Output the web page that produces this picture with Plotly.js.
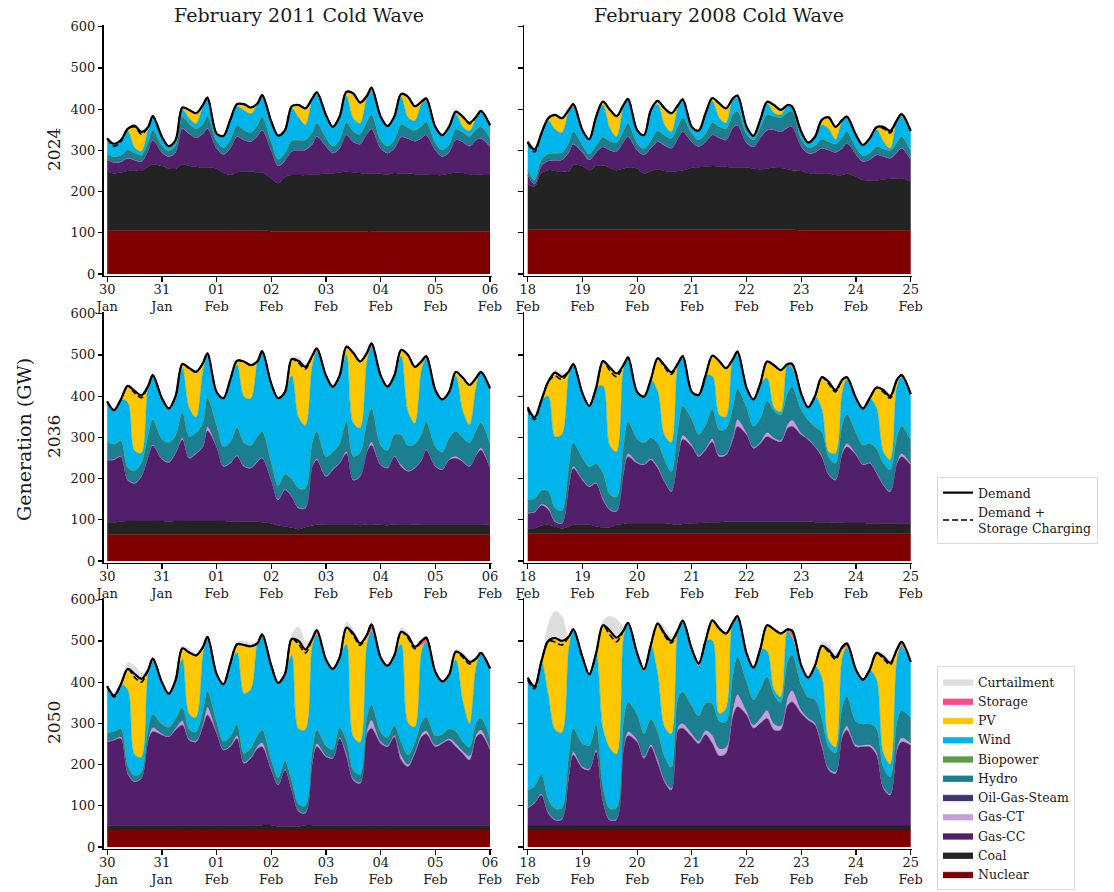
<!DOCTYPE html>
<html>
<head>
<meta charset="utf-8">
<script src="https://cdn.plot.ly/plotly-3.0.1.min.js"></script>
<style>html,body{margin:0;padding:0;background:#fff;}#chart{width:1114px;height:892px;}</style>
</head>
<body>
<div id="chart"></div>
<script>
// ---------- time grid (hours of day sampled, 7 days + final midnight) ----------
const HOURS = [0, 3, 6, 9, 12, 15, 18, 20];
const NDAYS = 7;
const days_2011 = ['30','31','01','02','03','04','05','06'];
const months_2011 = ['Jan','Jan','Feb','Feb','Feb','Feb','Feb','Feb'];
const days_2008 = ['18','19','20','21','22','23','24','25'];
const months_2008 = ['Feb','Feb','Feb','Feb','Feb','Feb','Feb','Feb'];
const yTicks = [0, 100, 200, 300, 400, 500, 600];
const colTitles = ['February 2011 Cold Wave', 'February 2008 Cold Wave'];
const rowTitles = ['2024', '2036', '2050'];

// ---------- shared small series (GW) ----------
const ogs_all = [1,1,1,1,1,1,1,1, 1,1,1,1,1,1,1,1, 1,1,1,1,1,1,1,1, 1,1,1,1,1,1,1,1, 1,1,1,1,1,1,1,1, 1,1,1,1,1,1,1,1, 1,1,1,1,1,1,1,1, 1];
const bio_all = [1,1,1,1,1,1,1,1, 1,1,1,1,1,1,1,1, 1,1,1,1,1,1,1,1, 1,1,1,1,1,1,1,1, 1,1,1,1,1,1,1,1, 1,1,1,1,1,1,1,1, 1,1,1,1,1,1,1,1, 1];

// ---------- 2024, February 2011 cold wave ----------
const demand_2024_2011 = [329,316,325,352,360,345,357,383, 333,310,325,404,398,390,410,428, 341,335,374,412,412,404,414,434, 370,336,349,407,410,402,426,441, 386,357,382,442,438,416,432,452, 382,359,382,437,430,407,418,426, 357,337,357,394,382,367,382,396, 361];
const dsc_2024_2011 = [329,310,321,352,357,339,357,383, 333,310,325,404,398,390,410,428, 341,335,374,412,412,404,414,434, 370,336,349,407,410,402,426,441, 386,357,382,442,438,416,432,452, 382,359,382,437,430,407,418,426, 357,337,357,394,382,364,382,396, 361];
const nuclear_2024_2011 = [105,105,105,105,105,105,105,105, 105,105,105,105,105,105,105,105, 105,105,105,105,105,105,105,105, 104,104,104,104,104,104,104,104, 104,104,104,104,104,104,104,104, 103,103,103,103,103,103,103,103, 103,103,103,103,103,103,103,103, 103];
const coal_2024_2011 = [143,139,141,145,147,145,155,161, 157,151,150,161,157,155,153,153, 151,140,135,142,143,143,142,141, 128,116,132,136,136,136,138,138, 140,140,142,144,143,141,140,140, 140,138,142,141,140,139,139,138, 137,137,140,143,142,139,139,138, 137];
const gascc_2024_2011 = [29,26,26,31,24,22,40,59, 33,29,40,87,78,70,82,95, 49,45,65,86,77,73,88,103, 68,42,39,57,60,61,73,91, 66,49,59,89,73,70,96,108, 62,52,60,88,85,80,88,96, 60,45,52,79,75,68,83,88, 69];
const gasct_2024_2011 = [1,1,1,1,1,1,1,1, 1,1,1,1,1,1,1,1, 1,1,1,1,1,1,1,1, 1,1,1,1,1,1,1,1, 1,1,1,1,1,1,1,1, 1,1,1,1,1,1,1,1, 1,1,1,1,1,1,1,1, 1];
const hydro_2024_2011 = [12,12,14,18,16,14,18,22, 14,12,14,25,22,20,22,28, 16,14,18,25,22,20,24,30, 18,14,16,24,22,22,26,30, 18,15,18,28,24,22,28,32, 18,15,18,28,25,24,27,30, 16,14,16,24,22,22,24,26, 18];
const wind_2024_2011 = [37,31,36,45,12,9,31,33, 21,10,13,18,13,12,42,44, 17,28,48,46,47,45,50,49, 49,57,55,78,55,36,79,72, 55,46,56,64,31,26,56,57, 56,48,56,66,24,23,53,51, 38,35,43,37,12,12,27,38, 31];
const pv_2024_2011 = [0,0,0,5,53,47,5,0, 0,0,0,5,20,25,3,0, 0,0,0,5,15,15,2,0, 0,0,0,5,30,40,3,0, 0,0,0,10,60,50,5,0, 0,0,0,8,50,35,5,0, 0,0,0,5,25,20,3,0, 0];
const storage_2024_2011 = [0,0,0,0,0,0,0,0, 0,0,0,0,0,0,0,0, 0,0,0,0,0,0,0,3, 0,0,0,0,0,0,3,3, 0,0,0,0,0,0,5,8, 0,0,0,0,0,0,5,5, 0,0,0,0,0,0,3,0, 0];
const curtail_2024_2011 = [0,0,0,0,0,0,0,0, 0,0,0,0,0,0,0,0, 0,0,0,0,0,0,0,0, 0,0,0,0,0,0,0,0, 0,0,0,0,0,0,0,0, 0,0,0,0,0,0,0,0, 0,0,0,0,0,0,0,0, 0];

// ---------- 2024, February 2008 cold wave ----------
const demand_2024_2008 = [321,302,341,378,386,378,398,412, 349,327,382,418,399,383,410,425, 349,337,398,420,402,390,410,424, 357,348,390,427,414,402,426,433, 357,335,374,418,410,398,410,406, 345,319,333,374,380,357,374,382, 337,313,329,356,357,347,374,388, 347];
const dsc_2024_2008 = [318,296,341,378,386,378,398,412, 349,327,382,418,399,383,410,425, 349,337,398,420,402,390,410,424, 357,348,390,427,414,402,426,433, 357,335,374,418,410,398,410,406, 345,319,333,374,380,357,374,382, 337,313,329,356,353,342,374,388, 347];
const nuclear_2024_2008 = [108,108,108,108,108,108,108,108, 108,108,108,108,108,108,108,108, 108,108,108,108,108,108,108,108, 108,108,108,108,108,108,108,108, 108,108,108,108,108,108,108,108, 106,106,106,106,106,106,106,106, 106,106,106,106,106,106,106,106, 106];
const coal_2024_2008 = [110,104,137,144,142,141,140,157, 154,144,154,155,150,144,148,151, 148,136,142,146,142,140,142,143, 150,151,152,154,153,152,150,150, 150,148,146,148,150,149,146,144, 144,139,138,138,138,134,134,138, 130,122,120,121,123,125,125,126, 118];
const gascc_2024_2008 = [22,6,17,22,26,28,47,50, 33,25,33,45,42,45,64,74, 44,45,55,67,62,57,80,94, 62,50,60,75,69,65,97,103, 60,52,76,93,92,88,101,105, 59,48,51,61,56,55,65,73, 54,45,51,62,56,50,64,73, 53];
const gasct_2024_2008 = [1,1,1,1,1,1,1,1, 1,1,1,1,1,1,1,1, 1,1,1,1,1,1,1,1, 1,1,1,1,1,1,1,1, 1,1,1,1,1,1,1,1, 1,1,1,1,1,1,1,1, 1,1,1,1,1,1,1,1, 1];
const hydro_2024_2008 = [10,8,12,15,15,15,20,28, 15,12,14,22,20,20,24,30, 15,12,16,24,22,22,28,32, 18,14,18,28,25,25,30,32, 20,15,22,35,30,32,35,35, 16,12,14,20,18,18,24,26, 14,12,14,18,16,16,22,26, 18];
const wind_2024_2008 = [68,73,64,81,57,48,75,61, 36,35,70,77,31,13,58,59, 31,33,74,64,25,15,44,41, 16,22,49,51,21,14,35,32, 16,9,19,26,8,6,15,7, 17,11,21,34,31,11,39,33, 30,25,35,41,18,5,51,49, 47];
const pv_2024_2008 = [0,0,0,5,35,35,5,0, 0,0,0,8,45,50,5,0, 0,0,0,8,40,45,5,0, 0,0,0,8,35,35,3,0, 0,0,0,5,15,12,2,0, 0,0,0,12,28,30,3,0, 0,0,0,5,35,42,3,0, 0];
const storage_2024_2008 = [0,0,0,0,0,0,0,5, 0,0,0,0,0,0,0,0, 0,0,0,0,0,0,0,3, 0,0,0,0,0,0,0,5, 0,0,0,0,4,0,0,4, 0,0,0,0,0,0,0,3, 0,0,0,0,0,0,0,5, 0];
const curtail_2024_2008 = [0,0,0,0,0,0,0,0, 0,0,0,0,0,0,0,0, 0,0,0,0,0,0,0,0, 0,0,0,0,0,0,0,0, 0,0,0,0,0,0,0,0, 0,0,0,0,0,0,0,0, 0,0,0,0,0,0,0,0, 0];

// ---------- 2036, February 2011 cold wave ----------
const demand_2036_2011 = [387,366,392,425,413,402,425,451, 395,370,400,478,468,459,480,504, 410,395,440,486,484,475,485,509, 430,395,410,490,485,471,498,516, 450,423,450,520,505,484,505,528, 450,423,450,512,500,471,485,497, 415,392,410,459,445,427,445,459, 419];
const dsc_2036_2011 = [387,366,392,425,408,396,425,451, 395,370,400,478,468,459,480,504, 410,395,440,486,484,475,485,509, 430,395,410,490,480,466,498,516, 450,423,450,520,505,484,505,528, 450,423,450,512,500,471,485,497, 415,392,410,459,445,427,445,459, 419];
const nuclear_2036_2011 = [64,64,64,64,64,64,64,64, 64,64,64,64,64,64,64,64, 64,64,64,64,64,64,64,64, 64,64,64,64,64,64,64,64, 64,64,64,64,64,64,64,64, 64,64,64,64,64,64,64,64, 64,64,64,64,64,64,64,64, 64];
const coal_2036_2011 = [30,30,32,33,33,33,33,33, 33,32,33,33,33,33,33,33, 33,33,32,32,32,32,31,30, 27,22,20,17,13,18,22,24, 25,25,25,25,25,23,25,25, 24,23,25,25,25,24,25,25, 25,25,25,25,25,25,25,25, 24];
const gascc_2036_2011 = [151,151,157,99,91,108,156,183, 150,143,164,197,152,163,180,219, 180,132,141,159,133,129,146,155, 105,62,88,75,51,46,143,157, 116,132,148,172,107,118,176,192, 145,138,164,140,128,137,156,180, 140,132,156,160,152,140,168,180, 137];
const gasct_2036_2011 = [2,2,2,2,2,2,2,2, 2,2,2,5,2,2,2,10, 2,2,2,2,2,2,2,2, 2,2,2,2,2,2,2,3, 2,2,2,5,2,2,2,8, 2,2,2,5,2,2,2,2, 2,2,2,5,2,2,2,6, 2];
const hydro_2036_2011 = [40,35,35,28,28,30,50,60, 45,45,40,60,50,48,55,68, 50,45,48,65,55,52,58,62, 40,32,35,40,45,45,55,65, 45,40,45,70,55,55,70,80, 45,40,50,70,60,55,60,65, 45,40,50,60,55,55,58,60, 55];
const wind_2036_2011 = [98,82,100,157,48,23,118,104, 99,82,95,107,68,37,124,103, 79,117,151,152,111,113,182,194, 190,211,199,250,171,152,185,193, 196,158,164,162,80,59,146,149, 168,154,143,191,82,50,156,154, 137,127,111,133,65,42,106,122, 135];
const pv_2036_2011 = [0,0,0,40,145,140,0,0, 0,0,0,10,97,110,20,0, 0,0,0,10,85,81,0,0, 0,0,0,40,137,142,25,0, 0,0,0,20,170,161,20,0, 0,0,0,15,137,137,20,0, 0,0,0,10,80,97,20,0, 0];
const storage_2036_2011 = [0,0,0,0,0,0,0,3, 0,0,0,0,0,0,0,5, 0,0,0,0,0,0,0,0, 0,0,0,0,0,0,0,8, 0,0,0,0,0,0,0,8, 0,0,0,0,0,0,0,5, 0,0,0,0,0,0,0,0, 0];
const curtail_2036_2011 = [0,0,0,0,0,0,0,0, 0,0,0,0,0,0,0,0, 0,0,0,0,0,0,0,0, 0,0,0,3,10,8,0,0, 0,0,0,0,0,0,0,0, 0,0,0,0,0,0,0,0, 0,0,0,0,0,0,0,0, 0];

// ---------- 2036, February 2008 cold wave ----------
const demand_2036_2008 = [373,349,390,435,457,447,460,478, 407,376,420,485,470,455,475,494, 410,399,440,492,475,458,480,497, 410,403,450,498,485,468,490,508, 420,392,430,484,475,463,478,478, 405,373,400,446,435,415,440,446, 395,370,395,421,415,400,440,451, 405];
const dsc_2036_2008 = [368,343,390,435,449,440,460,478, 407,376,420,485,462,447,475,494, 410,399,440,492,470,453,480,497, 410,403,450,498,485,468,490,508, 420,392,430,484,475,463,478,478, 405,373,400,446,430,410,440,446, 395,370,395,421,410,395,440,451, 405];
const nuclear_2036_2008 = [66,66,66,66,66,66,66,66, 66,66,66,66,66,66,66,66, 66,66,66,66,66,66,66,66, 66,66,66,66,66,66,66,66, 66,66,66,66,66,66,66,66, 66,66,66,66,66,66,66,66, 66,66,66,66,66,66,66,66, 66];
const coal_2036_2008 = [13,13,20,22,18,13,18,22, 22,22,18,16,16,22,24,24, 24,24,24,24,24,24,22,24, 25,26,27,28,28,29,29,29, 29,29,29,29,29,29,29,29, 29,29,28,28,28,27,27,26, 26,26,25,25,25,25,25,25, 25];
const gascc_2036_2008 = [37,39,49,37,11,12,96,137, 108,92,104,66,42,32,123,163, 147,143,155,135,102,78,165,205, 186,161,176,195,159,162,199,231, 211,178,190,207,199,194,227,232, 211,199,183,159,115,103,168,185, 165,141,146,122,93,77,146,162, 142];
const gasct_2036_2008 = [2,2,3,5,2,2,3,5, 3,2,2,5,2,2,3,8, 3,2,3,5,3,2,5,10, 5,3,4,8,4,3,8,18, 5,3,4,10,5,4,10,15, 4,2,2,4,2,2,5,8, 3,2,2,3,2,2,4,8, 3];
const hydro_2036_2008 = [30,30,32,38,30,28,45,55, 50,45,45,60,35,32,60,75, 55,50,50,55,50,45,65,70, 60,50,55,70,60,60,70,72, 60,50,55,75,65,60,75,80, 55,45,45,55,40,38,65,70, 50,45,45,55,50,50,60,65, 55];
const wind_2036_2008 = [223,197,218,230,173,184,220,191, 156,147,183,210,117,109,187,156, 113,112,140,125,58,71,155,120, 66,95,120,79,36,28,116,85, 47,64,84,55,7,7,69,44, 38,30,74,55,12,23,77,84, 83,88,109,98,27,24,122,118, 112];
const pv_2036_2008 = [0,0,0,35,155,140,10,0, 0,0,0,60,190,190,10,0, 0,0,0,80,170,170,0,0, 0,0,0,50,130,118,0,0, 0,0,0,40,97,101,0,0, 0,0,0,77,170,154,30,0, 0,0,0,50,150,154,15,0, 0];
const storage_2036_2008 = [0,0,0,0,0,0,0,0, 0,0,0,0,0,0,0,0, 0,0,0,0,0,0,0,0, 0,0,0,0,0,0,0,5, 0,0,0,0,5,0,0,10, 0,0,0,0,0,0,0,5, 0,0,0,0,0,0,0,5, 0];
const curtail_2036_2008 = [0,0,0,0,8,8,0,0, 0,0,0,0,0,0,0,0, 0,0,0,0,0,0,0,0, 0,0,0,0,0,0,0,0, 0,0,0,0,0,0,0,0, 0,0,0,0,0,0,0,0, 0,0,0,0,0,0,0,0, 0];

// ---------- 2050, February 2011 cold wave ----------
const demand_2050_2011 = [390,368,395,432,420,408,430,457, 400,372,405,482,472,465,485,510, 420,395,445,492,490,487,495,516, 440,398,420,505,500,479,505,526, 455,432,460,532,518,494,515,540, 460,440,465,522,512,486,500,508, 425,402,418,474,465,449,458,471, 433];
const dsc_2050_2011 = [390,364,395,432,412,400,430,457, 400,372,405,482,472,465,485,510, 420,395,445,492,490,487,495,516, 440,398,420,505,492,471,505,526, 455,432,460,532,513,489,515,540, 460,440,465,522,507,481,500,508, 425,402,418,474,460,444,458,471, 433];
const nuclear_2050_2011 = [41,41,41,41,41,41,41,41, 41,41,41,41,41,41,41,41, 41,41,41,41,41,41,41,41, 41,41,41,41,41,41,41,41, 41,41,41,41,41,41,41,41, 41,41,41,41,41,41,41,41, 41,41,41,41,41,41,41,41, 41];
const coal_2050_2011 = [12,12,12,12,12,12,12,12, 12,12,12,12,12,12,12,12, 12,12,12,12,12,12,12,12, 12,9,9,9,9,12,12,12, 12,12,12,12,12,12,12,12, 12,12,12,12,12,12,12,12, 12,12,12,12,12,12,12,12, 12];
const gascc_2050_2011 = [202,206,210,125,105,113,206,227, 219,214,231,243,206,202,239,267, 223,182,190,210,150,162,186,190, 134,100,137,88,36,29,150,190, 166,162,210,166,109,101,222,235, 198,190,214,158,142,174,214,221, 190,198,206,190,174,158,214,221, 182];
const gasct_2050_2011 = [2,2,4,3,2,2,5,10, 3,2,4,10,3,3,8,20, 4,2,3,8,3,3,6,10, 3,2,2,3,2,2,5,8, 3,2,3,8,3,3,10,20, 5,3,4,12,5,5,8,8, 4,3,4,8,6,10,8,10, 5];
const hydro_2050_2011 = [18,18,18,15,12,12,22,30, 22,20,22,30,22,20,30,36, 22,18,20,25,20,20,25,30, 20,15,18,18,15,15,25,32, 22,18,22,30,20,18,30,36, 22,18,22,30,22,20,28,32, 22,18,22,28,22,20,26,28, 22];
const wind_2050_2011 = [113,87,108,184,51,36,137,130, 101,81,93,118,36,35,133,129, 116,138,177,174,145,142,223,228, 228,229,211,304,181,184,252,231, 209,195,170,233,81,77,175,179, 180,174,170,237,78,37,170,182, 154,128,131,173,99,56,137,154, 169];
const pv_2050_2011 = [0,0,0,50,195,190,5,0, 0,0,0,26,150,150,20,0, 0,0,0,20,117,105,0,0, 0,0,0,40,214,194,15,0, 0,0,0,40,250,240,15,0, 0,0,0,30,210,195,15,0, 0,0,0,20,109,150,15,0, 0];
const storage_2050_2011 = [0,0,0,0,0,0,0,5, 0,0,0,0,0,0,0,3, 0,0,0,0,0,0,0,3, 0,0,0,0,0,0,3,10, 0,0,0,0,0,0,8,15, 0,0,0,0,0,0,10,10, 0,0,0,0,0,0,3,3, 0];
const curtail_2050_2011 = [0,0,0,15,20,15,0,0, 0,0,0,5,8,5,0,0, 0,0,0,5,10,8,0,0, 0,0,0,10,35,20,0,0, 0,0,0,15,10,0,0,0, 0,0,0,10,8,0,0,0, 0,0,0,5,8,5,0,0, 0];

// ---------- 2050, February 2008 cold wave ----------
const demand_2050_2008 = [411,390,450,500,507,500,510,528, 461,419,470,538,525,508,525,544, 470,431,490,542,518,500,528,549, 480,445,500,550,530,518,545,560, 470,435,480,538,528,518,528,525, 440,411,440,488,478,460,485,494, 430,406,430,471,462,447,480,498, 449];
const dsc_2050_2008 = [405,384,450,500,497,490,510,528, 461,419,470,538,515,498,525,544, 470,431,490,542,513,495,528,549, 480,445,500,550,530,518,545,560, 470,435,480,538,528,518,528,525, 440,411,440,488,473,455,485,494, 430,406,430,471,457,442,480,498, 449];
const nuclear_2050_2008 = [41,41,41,41,41,41,41,41, 41,41,41,41,41,41,41,41, 41,41,41,41,41,41,41,41, 41,41,41,41,41,41,41,41, 41,41,41,41,41,41,41,41, 41,41,41,41,41,41,41,41, 41,41,41,41,41,41,41,41, 41];
const coal_2050_2008 = [10,10,10,10,10,10,10,10, 10,10,10,10,10,10,10,10, 10,10,10,10,10,10,10,10, 10,10,10,10,10,10,10,10, 10,10,10,10,10,10,10,10, 10,10,10,10,10,10,10,10, 10,10,10,10,10,10,10,10, 10];
const gascc_2050_2008 = [43,55,75,31,14,16,119,172, 140,136,180,59,14,16,184,219, 204,164,192,152,107,87,233,237, 216,200,222,200,170,176,265,289, 269,237,249,261,233,233,293,301, 273,257,245,192,136,127,216,233, 192,192,192,172,91,75,184,204, 196];
const gasct_2050_2008 = [2,2,3,3,2,2,5,8, 4,3,5,4,2,2,6,10, 5,4,6,10,5,4,8,12, 8,6,10,20,18,15,20,30, 10,8,12,20,15,10,20,28, 8,5,5,8,4,4,8,10, 5,4,5,8,4,3,8,10, 5];
const hydro_2050_2008 = [40,38,45,30,25,25,45,55, 55,55,60,30,25,25,60,70, 60,55,60,65,55,50,70,75, 65,60,65,75,65,60,80,90, 70,60,70,80,70,55,85,85, 60,50,55,60,50,45,65,70, 55,50,50,55,45,40,60,65, 60];
const wind_2050_2008 = [273,242,274,253,191,182,258,237, 209,172,172,142,146,129,202,192, 148,150,179,141,72,80,164,172, 138,121,150,153,18,32,127,93, 68,77,96,61,12,13,72,43, 46,46,82,98,17,13,118,118, 125,107,130,118,35,30,150,156, 135];
const pv_2050_2008 = [0,0,0,130,222,222,30,0, 0,0,0,250,285,283,20,0, 0,0,0,121,226,226,0,0, 0,0,0,49,206,182,0,0, 0,0,0,60,145,154,0,0, 0,0,0,77,218,218,20,0, 0,0,0,65,234,246,20,0, 0];
const storage_2050_2008 = [0,0,0,0,0,0,0,3, 0,0,0,0,0,0,0,0, 0,5,0,0,0,0,0,0, 0,5,0,0,0,0,0,5, 0,0,0,3,0,0,5,15, 0,0,0,0,0,0,5,10, 0,0,0,0,0,0,5,10, 0];
const curtail_2050_2008 = [0,0,0,40,65,60,0,0, 0,0,0,10,35,45,10,0, 0,0,0,5,15,10,0,0, 0,0,0,0,5,3,0,0, 0,0,0,3,3,3,0,0, 0,0,0,10,15,10,0,0, 0,0,0,3,8,5,0,0, 0];

// ---------- technology styling (stack order bottom -> top) ----------
const TECHS = [
  {key:'nuclear', name:'Nuclear',       color:'#7f0000'},
  {key:'coal',    name:'Coal',          color:'#232323'},
  {key:'gascc',   name:'Gas-CC',        color:'#52206b'},
  {key:'gasct',   name:'Gas-CT',        color:'#c2a0d9'},
  {key:'ogs',     name:'Oil-Gas-Steam', color:'#3d3476'},
  {key:'hydro',   name:'Hydro',         color:'#1c7f8f'},
  {key:'bio',     name:'Biopower',      color:'#5b9a46'},
  {key:'wind',    name:'Wind',          color:'#00b5ec'},
  {key:'pv',      name:'PV',            color:'#ffc700'},
  {key:'storage', name:'Storage',       color:'#ff4a88'},
  {key:'curtail', name:'Curtailment',   color:'#dedede'}
];

const PANELS = [
  {row:0, col:0, demand:demand_2024_2011, dsc:dsc_2024_2011, s:{nuclear:nuclear_2024_2011, coal:coal_2024_2011, gascc:gascc_2024_2011, gasct:gasct_2024_2011, ogs:ogs_all, hydro:hydro_2024_2011, bio:bio_all, wind:wind_2024_2011, pv:pv_2024_2011, storage:storage_2024_2011, curtail:curtail_2024_2011}},
  {row:0, col:1, demand:demand_2024_2008, dsc:dsc_2024_2008, s:{nuclear:nuclear_2024_2008, coal:coal_2024_2008, gascc:gascc_2024_2008, gasct:gasct_2024_2008, ogs:ogs_all, hydro:hydro_2024_2008, bio:bio_all, wind:wind_2024_2008, pv:pv_2024_2008, storage:storage_2024_2008, curtail:curtail_2024_2008}},
  {row:1, col:0, demand:demand_2036_2011, dsc:dsc_2036_2011, s:{nuclear:nuclear_2036_2011, coal:coal_2036_2011, gascc:gascc_2036_2011, gasct:gasct_2036_2011, ogs:ogs_all, hydro:hydro_2036_2011, bio:bio_all, wind:wind_2036_2011, pv:pv_2036_2011, storage:storage_2036_2011, curtail:curtail_2036_2011}},
  {row:1, col:1, demand:demand_2036_2008, dsc:dsc_2036_2008, s:{nuclear:nuclear_2036_2008, coal:coal_2036_2008, gascc:gascc_2036_2008, gasct:gasct_2036_2008, ogs:ogs_all, hydro:hydro_2036_2008, bio:bio_all, wind:wind_2036_2008, pv:pv_2036_2008, storage:storage_2036_2008, curtail:curtail_2036_2008}},
  {row:2, col:0, demand:demand_2050_2011, dsc:dsc_2050_2011, s:{nuclear:nuclear_2050_2011, coal:coal_2050_2011, gascc:gascc_2050_2011, gasct:gasct_2050_2011, ogs:ogs_all, hydro:hydro_2050_2011, bio:bio_all, wind:wind_2050_2011, pv:pv_2050_2011, storage:storage_2050_2011, curtail:curtail_2050_2011}},
  {row:2, col:1, demand:demand_2050_2008, dsc:dsc_2050_2008, s:{nuclear:nuclear_2050_2008, coal:coal_2050_2008, gascc:gascc_2050_2008, gasct:gasct_2050_2008, ogs:ogs_all, hydro:hydro_2050_2008, bio:bio_all, wind:wind_2050_2008, pv:pv_2050_2008, storage:storage_2050_2008, curtail:curtail_2050_2008}}
];

// time axis in days since start of window
const X = [];
for (let d = 0; d < NDAYS; d++) for (const h of HOURS) X.push(d + h / 24);
X.push(NDAYS);
const TICKVALS = [0, 1, 2, 3, 4, 5, 6, 7];
const tickText = (days, months) => days.map((d, k) => d + '<br>' + months[k]);

// ---------- geometry (page pixels -> paper fractions) ----------
const W = 1114, H = 892;
const colPx = [[103.7, 491.5], [524.2, 912.2]];
const rowPx = [[25, 276], [312, 563], [598, 849]];
const FONT = 'DejaVu Serif, serif';
const TXT = '#1a1a1a';
const TICKSIZE = 13;

const traces = [];
PANELS.forEach((p, i) => {
  const n = i + 1;
  const xa = 'x' + (n === 1 ? '' : n), ya = 'y' + (n === 1 ? '' : n);
  TECHS.forEach(t => {
    traces.push({
      type:'scatter', mode:'lines', x:X, y:p.s[t.key], xaxis:xa, yaxis:ya,
      stackgroup:'g' + n, name:t.name, legend:'legend2', legendgroup:t.key,
      showlegend: n === 1, fillcolor:t.color,
      line:{color:t.color, width:0.5, shape:'spline', smoothing:0.9},
      hoverinfo:'skip'
    });
  });
  traces.push({type:'scatter', mode:'lines', x:X, y:p.demand, xaxis:xa, yaxis:ya, name:'Demand',
    legend:'legend', legendgroup:'demand', showlegend:n === 1,
    line:{color:'#000', width:2.2, shape:'spline', smoothing:0.9}, hoverinfo:'skip'});
  traces.push({type:'scatter', mode:'lines', x:X, y:p.dsc, xaxis:xa, yaxis:ya, name:'Demand +<br>Storage Charging',
    legend:'legend', legendgroup:'dsc', showlegend:n === 1,
    line:{color:'#000', width:1.6, dash:'6px,3px', shape:'spline', smoothing:0.9}, hoverinfo:'skip'});
});

const layout = {
  width:W, height:H, margin:{l:0, r:0, t:0, b:0, autoexpand:false},
  paper_bgcolor:'#fff', plot_bgcolor:'#fff',
  font:{family:FONT, size:TICKSIZE, color:TXT},
  showlegend:true,
  legend:{x:937/W, y:1 - 477/H, xanchor:'left', yanchor:'top', bgcolor:'#fff', bordercolor:'#d9d9d9', borderwidth:1,
    font:{family:FONT, size:12.5, color:TXT}, traceorder:'normal', tracegroupgap:0, itemwidth:30},
  legend2:{x:937/W, y:2/H, xanchor:'left', yanchor:'bottom', bgcolor:'#fff', bordercolor:'#d9d9d9', borderwidth:1,
    font:{family:FONT, size:12.5, color:TXT}, traceorder:'reversed', tracegroupgap:0, itemwidth:30},
  annotations:[]
};

PANELS.forEach((p, i) => {
  const n = i + 1;
  const sx = n === 1 ? '' : n;
  const cp = colPx[p.col], rp = rowPx[p.row];
  layout['xaxis' + sx] = {
    domain:[cp[0] / W, cp[1] / W], anchor:'y' + sx, type:'linear', automargin:false,
    range:[-0.064, 7.027], tickmode:'array', tickvals:TICKVALS,
    ticktext: p.col === 0 ? tickText(days_2011, months_2011) : tickText(days_2008, months_2008),
    ticklabelstandoff:-3,
    showline:true, linecolor:'#000', linewidth:1.25, ticks:'outside', ticklen:4.5, tickwidth:1.25, tickcolor:'#000',
    showgrid:false, zeroline:false, tickfont:{family:FONT, size:TICKSIZE, color:TXT}, fixedrange:true
  };
  layout['yaxis' + sx] = {
    domain:[1 - rp[1] / H, 1 - rp[0] / H], anchor:'x' + sx, type:'linear', automargin:false,
    range:[-4.85, 604.1], tickmode:'array', tickvals:yTicks, showticklabels: p.col === 0,
    showline:true, linecolor:'#000', linewidth:1.25, ticks:'outside', ticklen:4.5, tickwidth:1.25, tickcolor:'#000',
    showgrid:false, zeroline:false, tickfont:{family:FONT, size:TICKSIZE, color:TXT}, fixedrange:true
  };
});

// column titles
colTitles.forEach((t, c) => {
  const cx = (colPx[c][0] + 3.5 + colPx[c][1] - 1.5) / 2;
  layout.annotations.push({text:t, xref:'paper', yref:'paper', x:cx / W, y:1 - 15 / H,
    xanchor:'center', yanchor:'middle', showarrow:false, font:{family:FONT, size:19, color:TXT}});
});
// row titles
rowTitles.forEach((t, r) => {
  const cy = (rowPx[r][0] + rowPx[r][1]) / 2 - 1.5;
  layout.annotations.push({text:t, xref:'paper', yref:'paper', x:54 / W, y:1 - cy / H,
    xanchor:'center', yanchor:'middle', textangle:-90, showarrow:false, font:{family:FONT, size:17, color:TXT}});
});
// shared y label
layout.annotations.push({text:'Generation (GW)', xref:'paper', yref:'paper', x:24 / W, y:1 - 440 / H,
  xanchor:'center', yanchor:'middle', textangle:-90, showarrow:false, font:{family:FONT, size:19, color:TXT}});

Plotly.newPlot('chart', traces, layout, {displayModeBar:false, staticPlot:true});
</script>
</body>
</html>
